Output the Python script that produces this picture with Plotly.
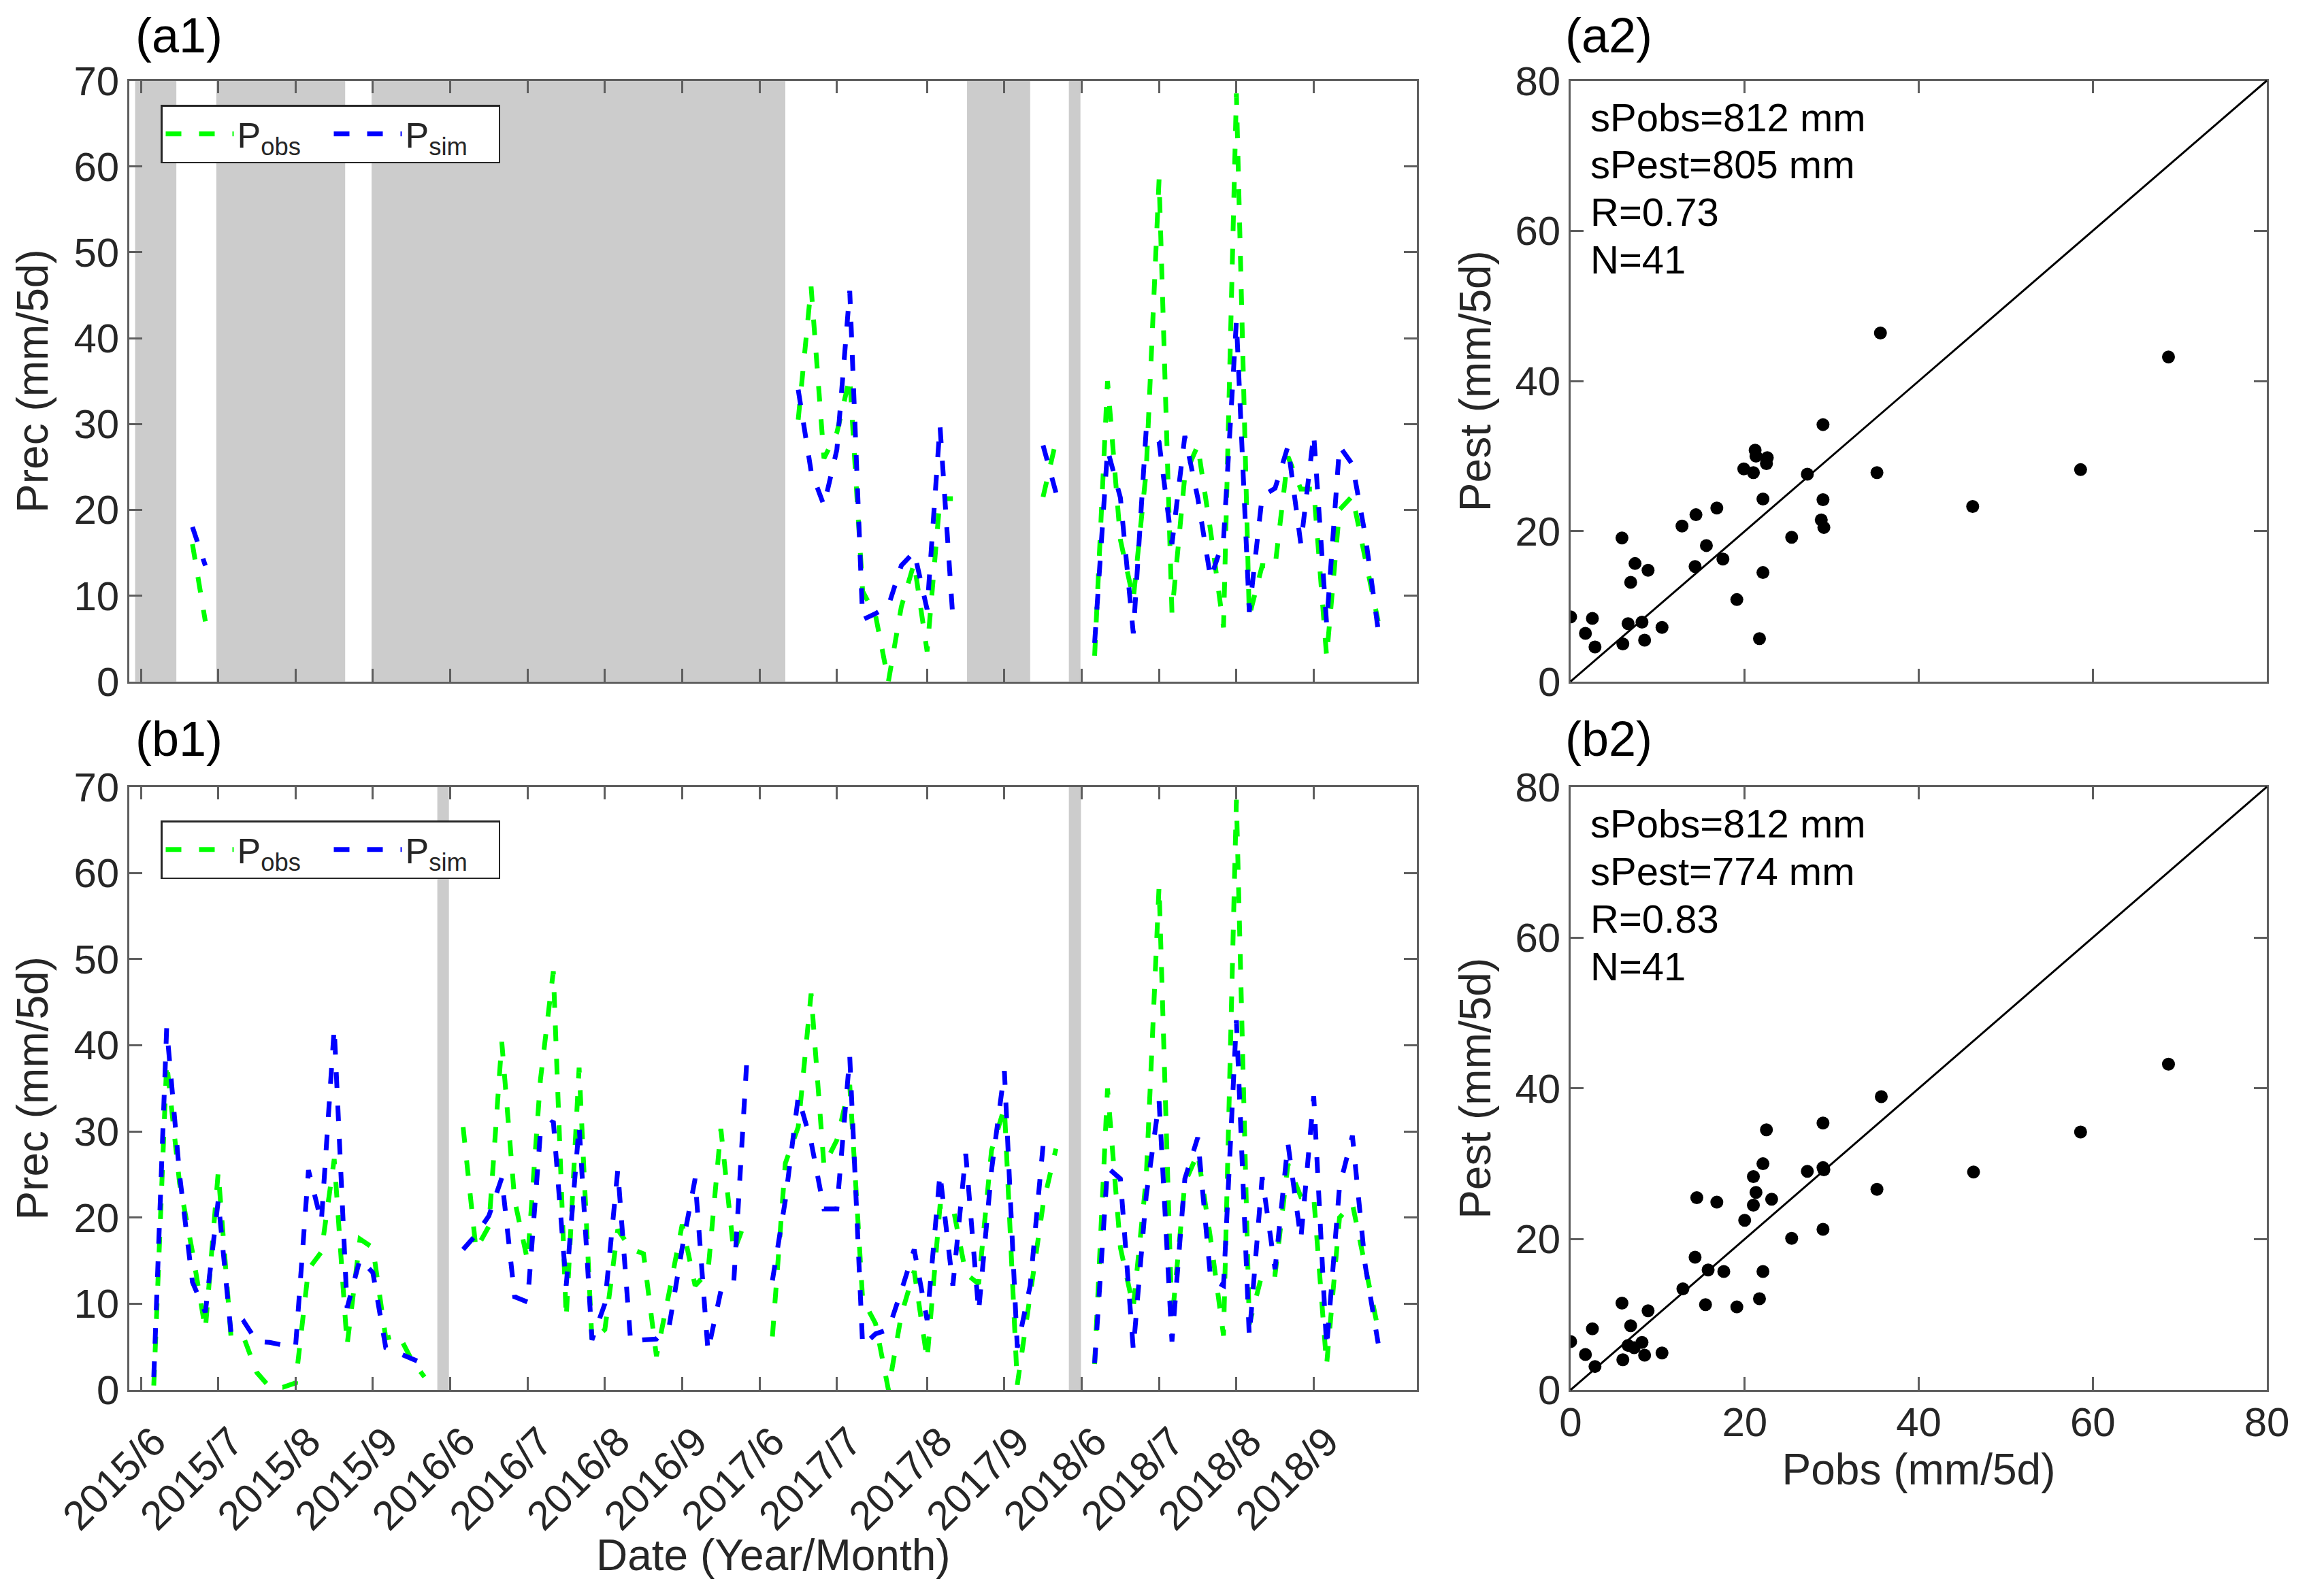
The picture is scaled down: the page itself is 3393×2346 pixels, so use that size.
import plotly.graph_objects as go

###
### Данные: 5-дневные суммы осадков (пентады), июнь-сентябрь 2015-2018
###
# индексы пентад 1..100 по оси X, подписи месяцев
tick_pos = [1, 7, 13, 19, 25, 31, 37, 43, 49, 55, 62, 68, 74, 80, 86, 92]
tick_text = ['2015/6', '2015/7', '2015/8', '2015/9',
             '2016/6', '2016/7', '2016/8', '2016/9',
             '2017/6', '2017/7', '2017/8', '2017/9',
             '2018/6', '2018/7', '2018/8', '2018/9']

# первая пентада каждого сезона
season_start = [2, 26, 50, 75]

# Pobs (mm/5d)
obs_2015 = [0.5, 38, 24, 16, 7, 25.3, 6, 6, 2, 0.3, 0.3, 0.8, 14, 16, 26.8, 5.2,
            17.5, 16.5, 6, 6.4, 3.5, 1.5]
obs_2016 = [30.5, 16.3, 19, 40.4, 22, 15, 36, 48.6, 8.3, 37.4, 5.6, 7, 18.6, 16.4,
            15.8, 3.9, 11.4, 19.2, 12.1, 13.7, 30.3, 16, 20]
obs_2017 = [6.2, 26.3, 30.5, 46, 26, 29, 35.4, 10.5, 7.7, 0, 8.7, 13.8, 3.5, 21.3,
            21.3, 13.5, 12.3, 27.8, 32.8, 0.6, 11, 21.5, 28]
obs_2018 = [3, 35, 16.5, 9.6, 24.5, 58.5, 8, 24, 27.5, 17.5, 6.3, 68.5, 7.6, 13.5,
            13.4, 26.2, 22.4, 22.4, 2.9, 20, 21.6, 14.5, 7]

# Psim, панель (b1)
simb_2015 = [1.5, 42, 25, 12.5, 9, 22, 6.5, 7.9, 5.6, 5.5, 5.2, 5, 25.5, 19.5, 42,
             9.5, 15.2, 13.6, 4.9, 4.3, 3.7, 3]
simb_2016 = [16.3, 18, 20.2, 24.6, 10.8, 10.2, 29.9, 31.2, 12.1, 30.7, 5.8, 10, 25.5,
             5.6, 5.8, 5.9, 7.5, 16.5, 24.5, 4.5, 11.5, 12.5, 37.9]
simb_2017 = [12.7, 22, 34, 28.8, 21, 21, 38.7, 5.1, 6.5, 7, 11.5, 16.3, 8.1, 25.1,
             12.1, 27.4, 9.1, 25.5, 37, 4.9, 12.1, 28.4, 29]
simb_2018 = [3.1, 25.8, 24.5, 4.7, 22.5, 33.5, 5.6, 24.5, 29.3, 12.9, 12.1, 42.9, 6.2,
             24.7, 14, 28.6, 17.5, 34.1, 4.9, 23.6, 29.5, 14.4, 5.4]

# Psim, панель (a1) - только там, где есть оценки
sima_start = [5, 52, 71, 75]
sima_2015 = [18, 13.5]
sima_2017a = [34, 24.5, 20.5, 27, 45.5, 7.2, 7.9, 8.8, 13.5, 15.1, 8.4, 29.8, 7.4]
sima_2017b = [27.5, 22]
sima_2018 = [4.5, 27, 21.4, 5.6, 29.3, 27.9, 16, 28.6, 21.4, 12, 16.5, 42, 8.1, 21.6,
             22.5, 27.4, 16, 28.8, 6.7, 27.4, 25.3, 17, 6]

# пропуски (серые полосы), в единицах пентад
gaps_a1 = [(0.55, 3.75), (6.85, 16.85), (18.9, 51.0), (65.1, 70.0), (73.0, 73.9)]
gaps_b1 = [(24.0, 24.9), (73.0, 73.94)]

# диаграммы рассеяния Pobs vs Pest
a2_obs = [0, 2.5, 1.7, 2.8, 5.9, 7.4, 8.9, 6.9, 6.6, 8.2, 10.5, 6.0, 8.5, 12.8, 14.4,
          16.8, 14.3, 15.6, 17.5, 19.1, 21.7, 22.1, 22.1, 19.9, 21.0, 21.2, 21.3, 22.6,
          22.5, 27.2, 25.4, 29.0, 29.0, 28.8, 29.1, 35.2, 35.6, 46.2, 58.6, 68.7]
a2_est = [8.6, 8.4, 6.4, 4.6, 19.1, 15.7, 14.8, 13.2, 7.7, 7.9, 7.2, 5.0, 5.5, 20.7, 22.2,
          23.1, 15.3, 18.1, 16.3, 10.9, 5.7, 14.5, 24.3, 28.3, 27.8, 30.8, 30.0, 29.8,
          29.0, 27.6, 19.2, 34.2, 24.2, 21.5, 20.5, 27.8, 46.4, 23.3, 28.2, 43.2]
b2_obs = [0, 2.5, 1.7, 2.8, 5.9, 6.9, 8.9, 6.6, 7.3, 8.2, 6.0, 8.5, 10.5, 12.9, 14.3,
          15.8, 17.6, 15.5, 19.1, 14.5, 16.8, 20.0, 21.0, 21.3, 21.0, 22.1, 22.5, 23.1,
          22.1, 21.7, 25.4, 27.2, 29.0, 29.1, 29.0, 29.0, 35.2, 35.7, 46.3, 58.6, 68.7]
b2_est = [6.4, 8.1, 4.7, 3.1, 11.5, 8.5, 10.5, 5.9, 5.6, 6.3, 4.0, 4.6, 4.9, 13.4, 17.6,
          15.9, 15.7, 11.3, 11.0, 25.5, 24.9, 22.5, 24.5, 26.2, 28.3, 30.0, 34.5, 25.3,
          15.7, 12.1, 20.1, 29.0, 29.5, 29.2, 35.4, 21.3, 26.6, 38.9, 28.9, 34.2, 43.2]

stats_a2 = ['sPobs=812 mm', 'sPest=805 mm', 'R=0.73', 'N=41']
stats_b2 = ['sPobs=812 mm', 'sPest=774 mm', 'R=0.83', 'N=41']


def place(starts, segments, n=100):
    # раскладываем сезоны по общей оси пентад, None даёт разрыв линии
    out = [None] * n
    for start, vals in zip(starts, segments):
        for k, v in enumerate(vals):
            out[start - 1 + k] = v
    return out


pentad = list(range(1, 101))
p_obs = place(season_start, [obs_2015, obs_2016, obs_2017, obs_2018])
p_sim_b = place(season_start, [simb_2015, simb_2016, simb_2017, simb_2018])
p_sim_a = place(sima_start, [sima_2015, sima_2017a, sima_2017b, sima_2018])
p_obs_a = [o if s is not None else None for o, s in zip(p_obs, p_sim_a)]

FONT = 'Liberation Sans, Arial, sans-serif'
INK = '#262626'
AXIS = '#5e5e5e'
GREEN = 'rgb(0,255,0)'
BLUE = 'rgb(0,0,255)'
DASH = '23px,26px'

# размеры холста и поля (в пикселях)
W, H = 3393, 2346
ML, MR, MT, MB = 182, 70, 110, 311
PW, PH = W - ML - MR, H - MT - MB


def fx(x):
    # пиксель -> доля области построения
    return (x - ML) / PW


def fy(y):
    return 1 - (y - MT) / PH


fig = go.Figure()

# (a1) и (b1): временные ряды
for xa, ya, obs, sim, leg in [('x', 'y', p_obs_a, p_sim_a, 'legend'),
                              ('x3', 'y3', p_obs, p_sim_b, 'legend2')]:
    fig.add_trace(go.Scatter(x=pentad, y=obs, mode='lines', name='P<sub>obs</sub>',
                             line=dict(color=GREEN, width=7, dash=DASH),
                             xaxis=xa, yaxis=ya, legend=leg))
    fig.add_trace(go.Scatter(x=pentad, y=sim, mode='lines', name='P<sub>sim</sub>',
                             line=dict(color=BLUE, width=7, dash=DASH),
                             xaxis=xa, yaxis=ya, legend=leg))

# (a2) и (b2): рассеяние
for xa, ya, xs, ys in [('x2', 'y2', a2_obs, a2_est), ('x4', 'y4', b2_obs, b2_est)]:
    fig.add_trace(go.Scatter(x=xs, y=ys, mode='markers', showlegend=False,
                             marker=dict(color='black', size=19),
                             xaxis=xa, yaxis=ya))

# серые полосы пропусков
shapes = []
for xref, yref, gaps in [('x', 'y domain', gaps_a1), ('x3', 'y3 domain', gaps_b1)]:
    for x0, x1 in gaps:
        shapes.append(dict(type='rect', xref=xref, yref=yref, x0=x0, x1=x1, y0=0, y1=1,
                           fillcolor='#cccccc', line=dict(width=0), layer='below'))
# линия 1:1
for xa, ya in [('x2', 'y2'), ('x4', 'y4')]:
    shapes.append(dict(type='line', xref=xa + ' domain', yref=ya + ' domain',
                       x0=0, y0=0, x1=1, y1=1, line=dict(color='black', width=3)))

axis_style = dict(showline=True, linecolor=AXIS, linewidth=2.5, mirror='allticks',
                  ticks='inside', ticklen=19, tickwidth=2.5, tickcolor=AXIS,
                  showgrid=False, zeroline=False, automargin=False,
                  tickfont=dict(family=FONT, size=60, color=INK))
title_font = dict(family=FONT, size=64, color=INK)

xl = [fx(182), fx(2074)]
xr = [fx(2300), fx(3323)]
yt = [fy(993.7), fy(110.5)]
yb = [max(fy(2035.3), 0), fy(1148.6)]

fig.update_layout(
    width=W, height=H,
    margin=dict(l=ML, r=MR, t=MT, b=MB),
    plot_bgcolor='white', paper_bgcolor='white',
    xaxis=dict(domain=xl, anchor='y', range=[0.1, 100], tickvals=tick_pos,
               showticklabels=False, **axis_style),
    yaxis=dict(domain=yt, anchor='x', range=[0, 70], dtick=10, ticklabelstandoff=0,
               title=dict(text='Prec (mm/5d)', font=title_font, standoff=18), **axis_style),
    xaxis2=dict(domain=xr, anchor='y2', range=[0, 80], dtick=20, showticklabels=False,
                **axis_style),
    yaxis2=dict(domain=yt, anchor='x2', range=[0, 80], dtick=20, ticklabelstandoff=0,
                title=dict(text='Pest (mm/5d)', font=title_font, standoff=16), **axis_style),
    xaxis3=dict(domain=xl, anchor='y3', range=[0.1, 100], tickvals=tick_pos,
                ticktext=tick_text, tickangle=-45, ticklabelshift=19, ticklabelstandoff=14,
                **axis_style),
    yaxis3=dict(domain=yb, anchor='x3', range=[0, 70], dtick=10, ticklabelstandoff=0,
                title=dict(text='Prec (mm/5d)', font=title_font, standoff=18), **axis_style),
    xaxis4=dict(domain=xr, anchor='y4', range=[0, 80], dtick=20, ticklabelstandoff=-7,
                title=dict(text='Pobs (mm/5d)', font=title_font, standoff=3), **axis_style),
    yaxis4=dict(domain=yb, anchor='x4', range=[0, 80], dtick=20, ticklabelstandoff=0,
                title=dict(text='Pest (mm/5d)', font=title_font, standoff=16), **axis_style),
    shapes=shapes,
)

# подпись оси дат под повернутыми метками
fig.add_annotation(text='Date (Year/Month)', x=0.5, y=fy(2278), xref='x3 domain',
                   yref='paper', xanchor='center', yanchor='middle', showarrow=False,
                   font=title_font)

legend_style = dict(orientation='h', xanchor='left', yanchor='top', bgcolor='white',
                    bordercolor=INK, borderwidth=2.5, itemwidth=100,
                    entrywidth=132, entrywidthmode='pixels',
                    font=dict(family=FONT, size=52, color=INK))
fig.update_layout(
    legend=dict(x=fx(228), y=fy(146), **legend_style),
    legend2=dict(x=fx(228), y=fy(1198), **legend_style),
)

# подписи панелей
for label, lx, ly in [('(a1)', 189, 44), ('(a2)', 2290, 44),
                      ('(b1)', 189, 1078), ('(b2)', 2290, 1078)]:
    fig.add_annotation(text=label, x=fx(lx), y=fy(ly), xref='paper', yref='paper',
                       xanchor='left', yanchor='middle', showarrow=False,
                       font=dict(family=FONT, size=72, color='black'))

# статистика на диаграммах рассеяния
for xa, ya, lines in [('x2', 'y2', stats_a2), ('x4', 'y4', stats_b2)]:
    for k, txt in enumerate(lines):
        fig.add_annotation(text=txt, x=0.026, y=0.939 - 0.0788 * k,
                           xref=xa + ' domain', yref=ya + ' domain',
                           xanchor='left', yanchor='middle', showarrow=False,
                           font=dict(family=FONT, size=58, color='black'))

fig.write_html('out.html')
